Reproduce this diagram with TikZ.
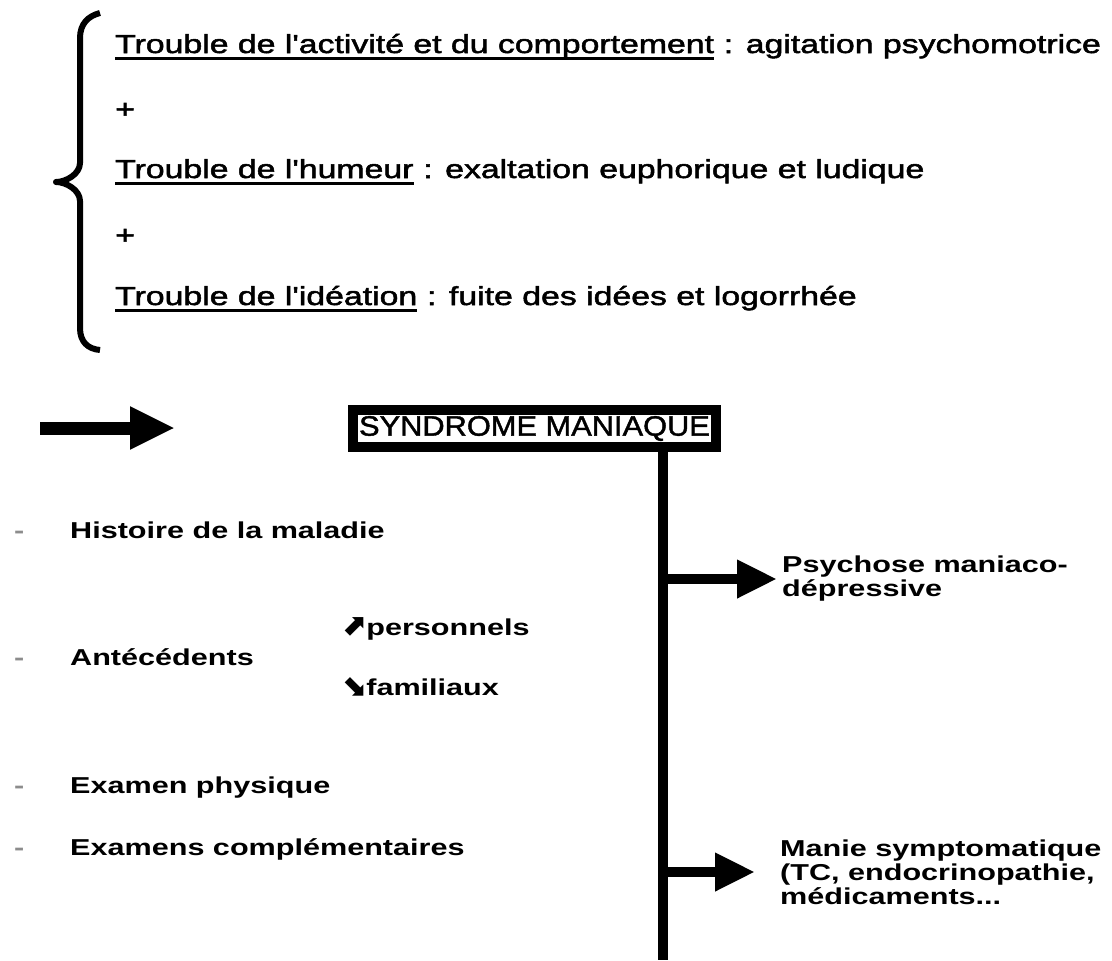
\documentclass[tikz,border=0pt]{standalone}
\usepackage{fontspec}
\setmainfont{Liberation Sans}
\newfontfamily\topfont[FakeStretch=1.3,FakeBold=2]{Liberation Sans}
\newfontfamily\listfont[FakeStretch=1.33]{Liberation Sans}
\newfontfamily\boxfont[FakeStretch=1.1,FakeBold=1.5]{Liberation Sans}
\newfontfamily\symfont{DejaVu Sans}
\usetikzlibrary{arrows.meta}

\begin{document}
\begin{tikzpicture}[x=1pt,y=-1pt,
  trouble/.style={anchor=base west,inner sep=0,font=\topfont\fontsize{26}{30}\selectfont},
  item/.style={anchor=base west,inner sep=0,font=\listfont\bfseries\fontsize{23}{24}\selectfont},
  tiret/.style={anchor=base west,inner sep=0,text=black!45,font=\listfont\bfseries\fontsize{23}{24}\selectfont},
  souligne/.style={line width=3pt},
  accolade/.style={line width=6pt,join=round},
  tronc/.style={line width=10pt},
  branche/.style={line width=10pt,-{Triangle[length=40pt,width=36pt]}}]
\useasboundingbox (0,0) rectangle (1112,961);
% accolade
\draw [accolade] (100,13) .. controls (88,16) and (80,24) .. (80,38)
   -- (80,163) .. controls (80,174) and (66,182) .. (56,182)
   .. controls (66,182) and (80,190) .. (80,201)
   -- (80,328) .. controls (80,342) and (88,349) .. (100,350);
% les trois troubles
\node [trouble] (act) at (115,53) {Trouble de l'activité et du comportement};
\node [trouble] (actr) at (act.base east) {\ : agitation psychomotrice};
\node [trouble] (plusa) at (115,118) {+};
\node [trouble] (hum) at (115,178) {Trouble de l'humeur};
\node [trouble] (humr) at (hum.base east) {\ : exaltation euphorique et ludique};
\node [trouble] (plusb) at (115,244) {+};
\node [trouble] (ide) at (115,305) {Trouble de l'idéation};
\node [trouble] (ider) at (ide.base east) {\ : fuite des idées et logorrhée};
\foreach \n in {act,hum,ide}
  \draw [souligne] ([yshift=-5.5pt]\n.base west) -- ([yshift=-5.5pt]\n.base east);
% grande fleche
\coordinate (flS) at (40,428);
\coordinate (flE) at (175,428);
\draw [line width=13pt,-{Triangle[length=45pt,width=40pt]}] (flS) -- (flE);
% syndrome
\node [draw,line width=10pt,minimum width=363pt,minimum height=37pt,inner sep=0,
  font=\boxfont\fontsize{28}{30}\selectfont] (synd) at (534.5,428.5) {SYNDROME MANIAQUE};
\coordinate (bas) at (663,960);
\draw [tronc] (synd.south -| bas) -- (bas);
\node [item,anchor=west,align=left] (pmd) at (782,579) {Psychose maniaco-\\dépressive};
\draw [branche,shorten >=5pt] (pmd.west -| bas) -- (pmd.west);
\node [item,anchor=west,align=left] (manie) at (780,872) {Manie symptomatique\\(TC, endocrinopathie,\\médicaments...};
\draw [branche,shorten >=25pt] (manie.west -| bas) -- (manie.west);
% demarche diagnostique
\foreach \y/\n/\t in {538/hist/Histoire de la maladie,665/ante/Antécédents,
    793/exam/Examen physique,855/compl/Examens complémentaires}{
  \node [tiret] (t\n) at (14,\y) {-};
  \node [item] (\n) at (70,\y) {\t};
}
\node [item] (pers) at (341,635) {{\symfont\fontsize{30}{24}\selectfont ⬈}personnels};
\node [item] (fam) at (341,695) {{\symfont\fontsize{30}{24}\selectfont ⬊}familiaux};
\end{tikzpicture}
\end{document}
